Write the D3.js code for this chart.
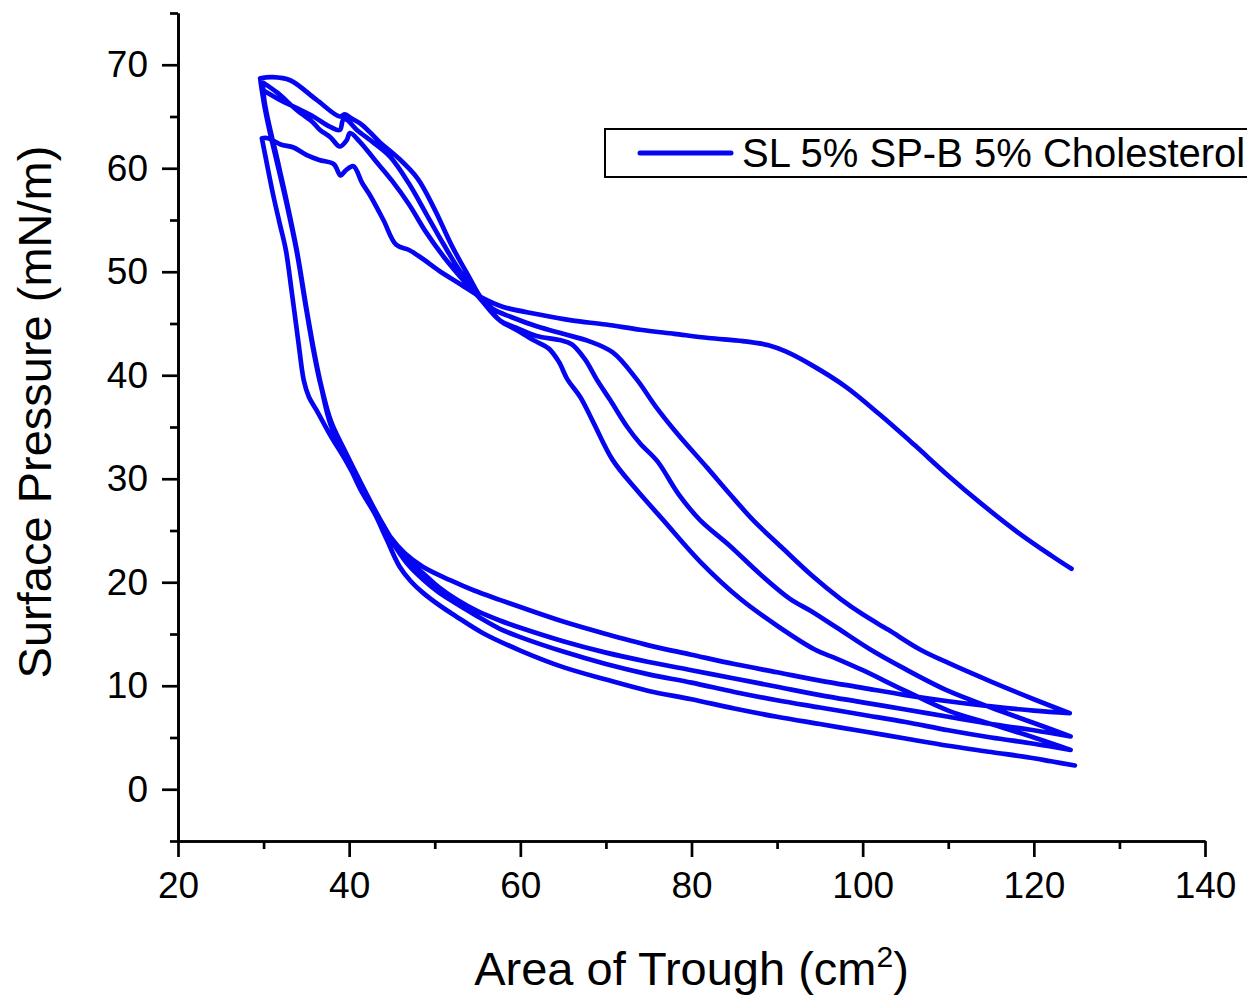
<!DOCTYPE html>
<html>
<head>
<meta charset="utf-8">
<script src="https://cdn.jsdelivr.net/npm/d3@7"></script>
<style>
  body { margin: 0; background: #fff; }
  svg { display: block; font-family: "Liberation Sans", Arial, sans-serif; }
</style>
</head>
<body>
<svg id="chart"></svg>
<script>
// Isotherm cycles: [area (cm2), surface pressure (mN/m)]
const compression1 = [[124.4,21.3],[122,22.6],[118,24.9],[114,27.5],[110,30.3],[106,33.3],[102,36.2],[98,38.9],[94,41.0],[91,42.3],[89,42.9],[86,43.3],[82,43.6],[78,44.0],[74,44.4],[70,44.9],[66,45.3],[62,45.9],[58,46.6],[55.5,47.5],[53,48.8],[50.5,50.1],[48.5,51.3],[47,52.1],[45.5,52.6],[44,55.0],[42.5,57.3],[41.5,58.6],[40.5,60.2],[39.6,59.8],[39,59.3],[38.2,60.4],[36.5,60.8],[35,61.3],[33.5,62.0],[32,62.3],[30.5,62.9],[29.8,62.9]];
const expansion1 = [[29.8,62.9],[30.3,60.8],[31.1,57.5],[31.9,54.6],[32.6,52.1],[33.3,48],[34.1,43],[34.7,39.5],[35.3,37.9],[36.2,36.6],[37.8,34.2],[39.5,31.9],[41.3,29.2],[43,26.8],[44.8,24.4],[46.5,22.8],[48.6,21.5],[51.8,20.2],[54.6,19.2],[57.6,18.3],[60,17.6],[65,16.2],[70,15.0],[75,13.9],[80,13.0],[85,12.1],[90,11.3],[95,10.5],[100,9.8],[105,9.1],[110,8.5],[115,8.0],[120,7.6],[124.2,7.35]];
const compression2 = [[124.2,7.35],[120,8.7],[115,10.4],[110,12.2],[106.7,13.5],[103,15.4],[100,16.9],[97.4,18.4],[94,20.7],[90.5,23.4],[87.2,26.0],[84.5,28.5],[81.8,31.1],[78.3,34.4],[75.8,37.0],[73.6,39.6],[70.8,42.2],[68,43.3],[65,44.0],[62,44.7],[59,45.6],[56.8,46.4],[55.4,47.5],[54,49.5],[52,52.5],[50,56],[48,59],[45.6,61.1],[43.6,62.5],[41.5,64.2],[40.3,64.8],[39.5,65.2],[38.9,65.0],[36.2,66.6],[33.1,68.5],[31,68.8],[29.6,68.7]];
const expansion2 = [[29.6,68.7],[29.9,67.0],[30.5,64.5],[31.4,61.6],[32.5,57.5],[33.8,52.3],[34.9,46.8],[35.8,42.5],[36.6,39.3],[37.8,35.7],[39.5,32.7],[41.5,29.4],[43.6,26.1],[45.5,23.5],[47,22.0],[48.6,20.9],[50.5,19.5],[52.6,18.3],[55,17.2],[57.6,16.3],[60,15.6],[65,14.3],[70,13.2],[75,12.3],[80,11.5],[85,10.7],[90,9.9],[95,9.1],[100,8.4],[105,7.7],[110,7.0],[115,6.3],[120,5.7],[124.3,5.1]];
const compression3 = [[124.3,5.1],[120,6.4],[115,7.9],[110,9.5],[105,11.6],[100.9,13.5],[97,15.6],[94,17.2],[91.5,18.4],[88,20.8],[84.5,23.5],[81,26.0],[78.5,28.5],[76,31.7],[74,33.4],[72.5,35.0],[70.5,37.6],[69,39.5],[67.5,41.6],[66,43.0],[64.6,43.4],[61.9,43.8],[59.5,44.6],[57.6,45.3],[55.2,47.5],[53,49.5],[51,51.5],[49,53.8],[47,56.5],[45,58.8],[43,60.8],[41.2,62.6],[40.1,63.4],[39.7,62.7],[38.9,62.1],[37.8,63.0],[36.6,63.7],[35.8,64.4],[33.9,65.6],[31.6,67.3],[29.9,68.3]];
const expansion3 = [[29.9,68.3],[30.1,66.5],[30.7,64.0],[31.5,61.2],[32.6,57.2],[33.9,52.0],[35.0,46.5],[35.9,42.3],[36.7,39.1],[37.9,35.5],[39.6,32.5],[41.6,29.2],[43.6,26.0],[45.5,23.3],[47,21.6],[48.6,20.3],[50.2,19.2],[51.8,18.3],[55,16.7],[57.6,15.5],[60,14.7],[65,13.3],[70,12.1],[75,11.1],[80,10.3],[85,9.4],[90,8.6],[95,7.9],[100,7.2],[105,6.5],[110,5.7],[115,5.0],[120,4.4],[124.3,3.8]];
const compression4 = [[124.3,3.8],[120,5.0],[115,6.3],[110,7.6],[105,9.5],[100,11.5],[97,12.6],[94.4,13.5],[90,15.8],[85.7,18.4],[81,22.0],[76.7,26.0],[73.5,29.0],[70.8,31.8],[68.5,35.5],[67,37.9],[65.5,39.6],[64.5,41.3],[63.3,42.6],[61.5,43.4],[59.5,44.4],[57.6,45.3],[55.3,47.6],[53,50],[51,52.7],[49,55.6],[47,58.5],[44.8,61.1],[42.8,62.5],[40.9,63.7],[39.7,64.7],[39.3,64.7],[38.9,63.7],[37.8,64.0],[35.8,65.0],[33.9,65.8],[31.9,66.6],[29.8,67.6]];
const expansion4 = [[29.8,67.6],[30.1,66.0],[30.7,63.6],[31.5,60.8],[32.6,56.9],[33.9,51.8],[35.0,46.3],[35.9,42.2],[36.7,39.0],[37.8,35.3],[39.4,32.4],[41.3,29.0],[43.0,26.6],[44.3,24.3],[45.9,21.5],[47.2,20.1],[48.6,19.0],[50.5,17.8],[52.5,16.7],[55.6,15.1],[60,13.4],[65,11.8],[70,10.6],[75,9.5],[80,8.7],[85,7.8],[90,7.0],[95,6.3],[100,5.6],[105,4.9],[110,4.2],[115,3.6],[120,3.0],[122,2.7],[124.8,2.3]];

const xMajorTicks = [20, 40, 60, 80, 100, 120, 140];
const xMinorTicks = [30, 50, 70, 90, 110, 130];
const yMajorTicks = [0, 10, 20, 30, 40, 50, 60, 70];
const yMinorTicks = [-5, 5, 15, 25, 35, 45, 55, 65, 75];
const seriesName = "SL 5% SP-B 5% Cholesterol";

// the whole run is one continuous trace, cycle after cycle
const trace = [].concat(compression1, expansion1, compression2, expansion2,
                        compression3, expansion3, compression4, expansion4);

const W = 1247, H = 997;
const margin = { top: 13, right: 42, bottom: 156, left: 178 };
const width = W - margin.left - margin.right;
const height = H - margin.top - margin.bottom;
const lineColor = "#0505f2";

const svg = d3.select("#chart").attr("width", W).attr("height", H);
const g = svg.append("g").attr("transform", `translate(${margin.left},${margin.top})`);

const x = d3.scaleLinear().domain([20, 140]).range([0, width]);
const y = d3.scaleLinear().domain([-5, 75]).range([height, 0]);

// minor ticks first, then the major axes on top
g.append("g")
    .attr("transform", `translate(0,${height})`)
    .call(d3.axisBottom(x).tickValues(xMinorTicks).tickSize(8).tickSizeOuter(0).tickFormat(""));
g.append("g")
    .call(d3.axisLeft(y).tickValues(yMinorTicks).tickSize(8).tickSizeOuter(0).tickFormat(""));

const xAxis = g.append("g")
    .attr("transform", `translate(0,${height})`)
    .call(d3.axisBottom(x).tickValues(xMajorTicks).tickSize(16).tickPadding(15).tickSizeOuter(0));
const yAxis = g.append("g")
    .call(d3.axisLeft(y).tickValues(yMajorTicks).tickSize(16).tickPadding(14).tickSizeOuter(0));

g.selectAll(".domain, .tick line").attr("stroke", "#000").attr("stroke-width", 2.7);
[xAxis, yAxis].forEach(a => a.selectAll("text")
    .attr("font-size", 37).attr("fill", "#000")
    .attr("font-family", '"Liberation Sans", Arial, sans-serif'));

// the curve
const line = d3.line()
    .x(d => x(d[0]))
    .y(d => y(d[1]))
    .curve(d3.curveCatmullRom.alpha(0.5));
g.append("path")
    .datum(trace)
    .attr("d", line)
    .attr("fill", "none")
    .attr("stroke", lineColor)
    .attr("stroke-width", 4.7)
    .attr("stroke-linejoin", "round")
    .attr("stroke-linecap", "round");

// axis titles
const xt = svg.append("text")
    .attr("x", margin.left + x(80)).attr("y", 985)
    .attr("text-anchor", "middle").attr("font-size", 47).attr("fill", "#000");
xt.append("tspan").text("Area of Trough (cm");
xt.append("tspan").attr("font-size", 30).attr("dy", -18).text("2");
xt.append("tspan").attr("dy", 18).text(")");

svg.append("text")
    .attr("transform", "translate(51,412) rotate(-90)")
    .attr("text-anchor", "middle").attr("font-size", 47).attr("fill", "#000")
    .text("Surface Pressure (mN/m)");

// legend, its box runs off the right edge as in the original
const legend = svg.append("g").attr("transform", "translate(605,129)");
legend.append("rect")
    .attr("width", 700).attr("height", 48)
    .attr("fill", "#fff").attr("stroke", "#000").attr("stroke-width", 2);
legend.append("line")
    .attr("x1", 35).attr("x2", 126).attr("y1", 24).attr("y2", 24)
    .attr("stroke", lineColor).attr("stroke-width", 5).attr("stroke-linecap", "round");
legend.append("text")
    .attr("x", 137).attr("y", 38)
    .attr("font-size", 40).attr("fill", "#000")
    .text(seriesName);
</script>
</body>
</html>
